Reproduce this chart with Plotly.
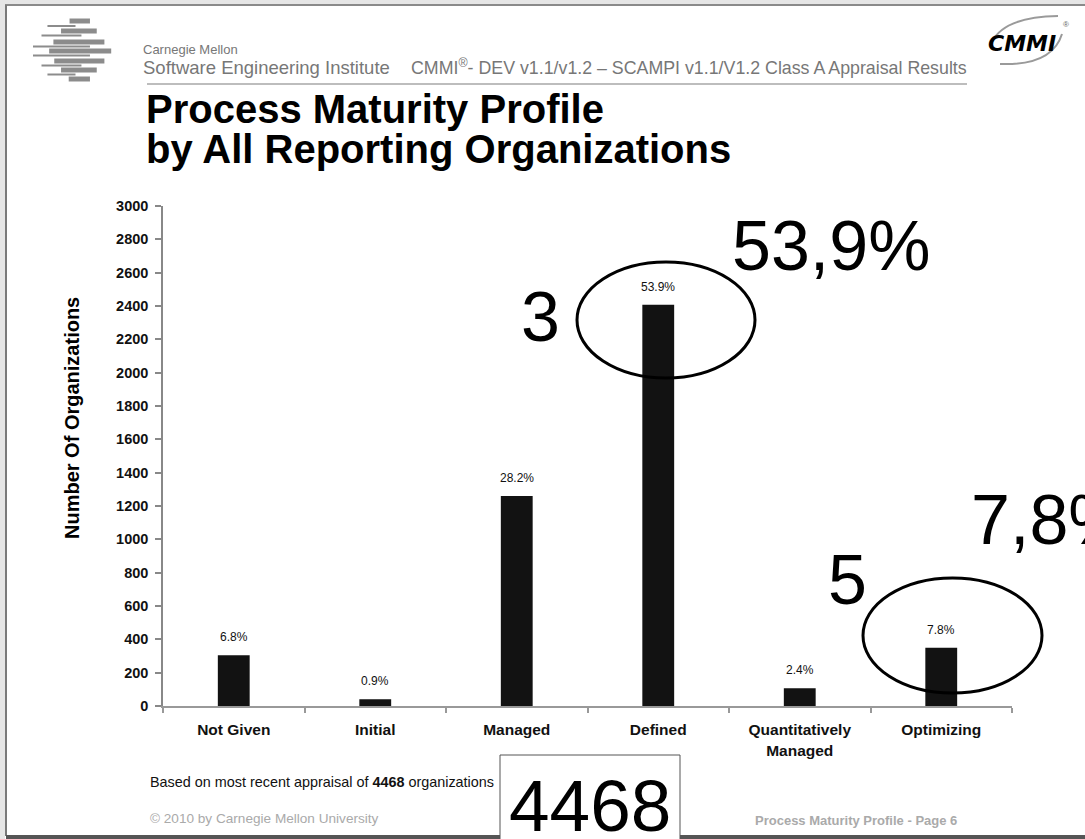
"""
CMMI Process Maturity Profile slide (SEI, 2010) - bar chart recreation
- 6 maturity levels, number of organizations per level
- slide frame, header, footer and hand-drawn highlight marks as shapes/annotations
"""
import plotly.graph_objects as go

W, H = 1085, 839
# plot area in pixels
PL, PR, PT, PB = 163, 1012, 206, 706

CATEGORIES = ['Not Given', 'Initial', 'Managed', 'Defined',
              'Quantitatively<br>Managed', 'Optimizing']
COUNTS = [304, 40, 1260, 2408, 107, 349]
PCT_LABELS = ['6.8%', '0.9%', '28.2%', '53.9%', '2.4%', '7.8%']
Y_TICKS = list(range(0, 3001, 200))
TOTAL_ORGS = 4468

FONT = 'Liberation Sans, Arial, sans-serif'


def X(px):
    return (px - PL) / (PR - PL)


def Y(py):
    return (PB - py) / (PB - PT)


def rect(x0, y0, x1, y1, fill, line_color=None, line_width=0, layer='above'):
    return dict(type='rect', xref='paper', yref='paper',
                x0=X(x0), x1=X(x1), y0=Y(y0), y1=Y(y1),
                fillcolor=fill, layer=layer,
                line=dict(color=line_color or fill, width=line_width))


def line(x0, y0, x1, y1, color, width):
    return dict(type='line', xref='paper', yref='paper',
                x0=X(x0), x1=X(x1), y0=Y(y0), y1=Y(y1),
                line=dict(color=color, width=width))


def text(s, x, y, size, color='black', xanchor='left', yanchor='middle',
         weight='normal', family=FONT, style='normal', angle=0):
    return dict(text=s, xref='paper', yref='paper', x=X(x), y=Y(y),
                xanchor=xanchor, yanchor=yanchor, showarrow=False,
                textangle=angle,
                font=dict(family=family, size=size, color=color,
                          weight=weight, style=style))


def sei_logo():
    # horizontal stripes of the SEI logo (y, x0, x1, thickness)
    stripes = [(21, 76, 100, 5), (26, 50, 83, 2), (31, 66, 108, 5),
               (35.5, 43, 90, 2), (42, 57, 117, 5), (46.5, 33, 100, 2),
               (51, 52, 125, 5), (55.5, 33, 100, 2), (61, 58, 117, 5),
               (65.5, 43, 90, 2), (70, 66, 108, 5), (74.5, 50, 83, 2),
               (79, 75, 100, 5)]
    sx = lambda v: 33 + (v - 33) * 0.85  # noqa: E731
    return [rect(sx(x0), y - t / 2, sx(x1), y + t / 2, '#8c8c8c')
            for y, x0, x1, t in stripes]


def cmmi_swoosh():
    def path(pts):
        (ax, ay), (bx, by), (cx, cy) = pts
        return (f'M {X(ax)},{Y(ay)} Q {X(bx)},{Y(by)} {X(cx)},{Y(cy)}')
    return [
        dict(type='path', xref='paper', yref='paper',
             path=path([(992, 42), (1004, 17), (1058, 16)]),
             line=dict(color='#9a9a9a', width=2)),
        dict(type='path', xref='paper', yref='paper',
             path=path([(1000, 64), (1052, 66), (1062, 34)]),
             line=dict(color='#9a9a9a', width=2)),
    ]


def build_figure():
    fig = go.Figure()
    fig.add_trace(go.Bar(
        x=CATEGORIES, y=COUNTS, width=0.225,
        marker=dict(color='#121212', line=dict(width=0)),
        hoverinfo='x+y',
    ))

    annotations = []
    # percentage labels above the bars
    for cat, val, lab in zip(CATEGORIES, COUNTS, PCT_LABELS):
        annotations.append(dict(
            x=cat, y=val, xref='x', yref='y', text=lab, showarrow=False,
            yanchor='bottom', yshift=9,
            font=dict(family=FONT, size=12, color='#111')))

    # y axis title
    annotations.append(text('Number Of Organizations', 72, 418, 20,
                            xanchor='center', weight='bold', angle=-90))

    # header
    annotations += [
        text('Carnegie Mellon', 141, 50, 13, color='#777'),
        text('Software Engineering Institute', 141, 67, 18.5, color='#777'),
        text('CMMI<sup>®</sup>- DEV v1.1/v1.2 – SCAMPI v1.1/V1.2 Class A Appraisal Results',
             969, 67, 17.8, color='#777', xanchor='right'),
        text('Process Maturity Profile', 144, 109, 40, weight='bold'),
        text('by All Reporting Organizations', 144, 149, 40, weight='bold'),
        text('CMMI', 1022, 44, 22, xanchor='center', weight='bold',
             style='italic', family='DejaVu Sans, sans-serif'),
        text('®', 1066, 25, 8, color='#666', xanchor='center'),
    ]

    # footer
    annotations += [
        text(f'Based on most recent appraisal of <b>{TOTAL_ORGS}</b> organizations',
             148, 782, 14.4, color='#111'),
        text('© 2010 by Carnegie Mellon University', 148, 818, 13.6,
             color='#aaa'),
        text('Process Maturity Profile - Page 6', 753, 820, 13,
             color='#aaa', weight='bold'),
        text(str(TOTAL_ORGS), 590, 805, 73, xanchor='center'),
    ]

    # hand-drawn highlights
    annotations += [
        text('53,9%', 730, 246, 70),
        text('3', 540, 317, 70, xanchor='center'),
        text('5', 847, 580, 70, xanchor='center'),
        text('7,8%', 969, 520, 70),
    ]

    shapes = []
    # slide frame
    shapes += [
        rect(0, 0, W, 4, '#e6e6e6', layer='below'),
        rect(0, 0, 5, H, '#e6e6e6', layer='below'),
        line(5, 5, W, 5, '#8a8a8a', 2),
        line(6, 5, 6, 836, '#7a7a7a', 2),
        rect(6, 835, W, H, '#555555'),
    ]
    shapes += sei_logo()
    shapes += cmmi_swoosh()
    # header rule
    shapes.append(line(147, 84, 967, 84, '#bdbdbd', 2))
    # 4468 box
    shapes.append(rect(500, 755, 680, H + 2, 'white', '#555', 1))
    # ellipses
    shapes += [
        dict(type='circle', xref='paper', yref='paper',
             x0=X(577), x1=X(755), y0=Y(262), y1=Y(378),
             line=dict(color='black', width=3)),
        dict(type='circle', xref='paper', yref='paper',
             x0=X(863), x1=X(1042), y0=Y(578), y1=Y(693),
             line=dict(color='black', width=3)),
    ]

    fig.update_layout(
        width=W, height=H,
        margin=dict(l=PL, r=W - PR, t=PT, b=H - PB, pad=0),
        paper_bgcolor='white', plot_bgcolor='white',
        showlegend=False,
        font=dict(family=FONT, color='#111'),
        xaxis=dict(
            type='category', range=[-0.5, 5.5], tickson='boundaries',
            showline=True, linecolor='#999', linewidth=1.5,
            ticks='outside', ticklen=5, tickcolor='#999', tickwidth=1.5,
            ticklabelstandoff=9,
            showgrid=False, zeroline=False, automargin=False,
            tickfont=dict(size=15.5, color='#111', weight='bold'),
        ),
        yaxis=dict(
            range=[0, 3000], tickvals=Y_TICKS,
            showline=True, linecolor='#888', linewidth=1.5,
            ticks='outside', ticklen=6, tickcolor='#888', tickwidth=1.5,
            ticklabelstandoff=4,
            showgrid=False, zeroline=False, automargin=False,
            tickfont=dict(size=14.5, color='#111', weight='bold'),
        ),
        annotations=annotations,
        shapes=shapes,
    )
    return fig


if __name__ == '__main__':
    fig = build_figure()
    fig.write_html('out.html', config={'displayModeBar': False},
                   post_script="document.body.style.margin='0px';")
